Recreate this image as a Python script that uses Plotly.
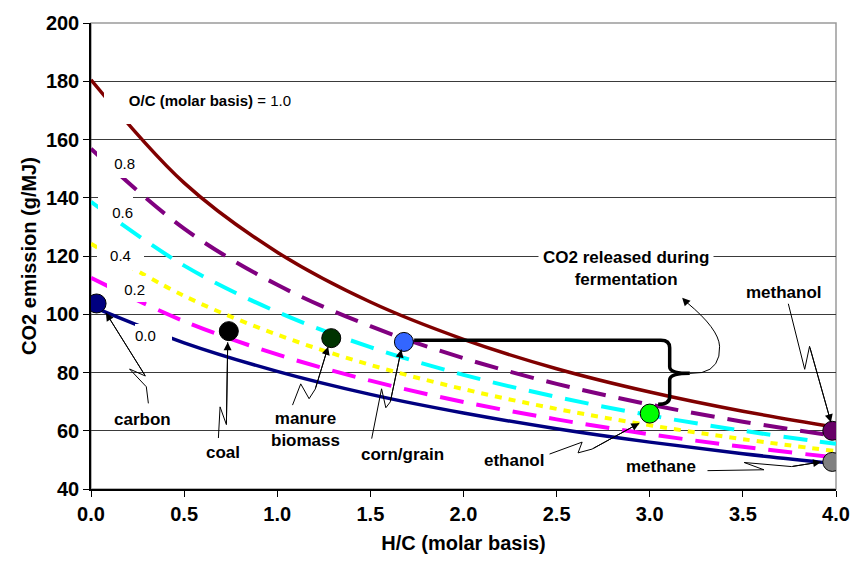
import plotly.graph_objects as go

# ---------------- data ----------------
hc = [0.0, 0.5, 1.0, 1.5, 2.0, 2.5, 3.0, 3.5, 4.0]

oc_10 = [180.5, 145.1, 121.3, 104.2, 91.4, 81.3, 73.3, 66.7, 61.2]
oc_08 = [156.8, 129.4, 110.1, 95.9, 84.9, 76.1, 69.0, 63.1, 58.2]
oc_06 = [138.6, 116.7, 100.8, 88.7, 79.2, 71.6, 65.3, 60.0, 55.5]
oc_04 = [124.2, 106.3, 93.0, 82.6, 74.3, 67.5, 61.9, 57.1, 53.0]
oc_02 = [112.5, 97.6, 86.2, 77.2, 69.9, 63.9, 58.8, 54.5, 50.8]
oc_00 = [102.8, 90.2, 80.4, 72.5, 66.1, 60.7, 56.1, 52.1, 48.7]

fuel_names = ["carbon", "coal", "manure biomass", "corn/grain", "ethanol", "methanol", "methane"]
fuel_hc = [0.03, 0.74, 1.29, 1.68, 3.00, 3.98, 3.98]
fuel_co2 = [103.7, 94.2, 91.8, 90.5, 65.9, 60.0, 49.3]
fuel_colors = ["#000080", "#000000", "#003300", "#3366FF", "#00FF00", "#660066", "#808080"]

x_ticks = [0.0, 0.5, 1.0, 1.5, 2.0, 2.5, 3.0, 3.5, 4.0]
y_ticks = [40, 60, 80, 100, 120, 140, 160, 180, 200]

FONT = "Arial, Liberation Sans, sans-serif"

fig = go.Figure()

curves = [
    (oc_00, "#000080", "solid", 3.5),
    (oc_02, "#FF00FF", "24px,13px", 4),
    (oc_04, "#FFFF00", "7px,7px", 4),
    (oc_06, "#00FFFF", "24px,13px", 4),
    (oc_08, "#800080", "24px,13px", 4),
    (oc_10, "#800000", "solid", 3.5),
]
for ys, col, dash, w in curves:
    fig.add_trace(go.Scatter(x=hc, y=ys, mode="lines",
                             line=dict(color=col, width=w, dash=dash, shape="spline", smoothing=1.0),
                             hoverinfo="skip", showlegend=False))

fig.add_trace(go.Scatter(x=fuel_hc, y=fuel_co2, mode="markers", text=fuel_names,
                         marker=dict(size=19, color=fuel_colors, line=dict(color="black", width=1)),
                         showlegend=False))

shapes = []
annotations = []

# plot-area border (gray top/right)
shapes.append(dict(type="rect", xref="paper", yref="paper", x0=0, x1=1, y0=0, y1=1,
                   line=dict(color="#9a9a9a", width=1.5), layer="between"))

# brace: corn/grain -> ethanol
brace = ("M 1.735,91.06 L 3.06,91.06 Q 3.107,91.06 3.107,88.5 L 3.107,82.0 "
         "Q 3.107,79.7 3.215,79.7 Q 3.107,79.7 3.107,77.4 L 3.107,71.6 "
         "Q 3.107,69.1 3.045,69.1")
shapes.append(dict(type="path", path=brace, line=dict(color="black", width=3.5), layer="above"))

# curved arrow from brace tip to the fermentation label
shapes.append(dict(type="path",
                   path="M 3.215,79.7 L 3.28,80.0 Q 3.38,81.5 3.375,89 Q 3.37,95 3.20,104.0",
                   line=dict(color="black", width=1), layer="above"))
annotations.append(dict(x=3.174, y=105.7, ax=3.205, ay=103.6, xref="x", yref="y",
                        axref="x", ayref="y", text="", showarrow=True, arrowhead=2,
                        arrowsize=1.6, arrowwidth=1, arrowcolor="black"))

# squiggly pointer arrows (tail ... head)
pointers = [
    [(0.308, 69.4), (0.297, 75.1), (0.207, 81.2), (0.292, 78.8), (0.080, 100.5)],   # carbon
    [(0.684, 57.5), (0.693, 68.2), (0.727, 62.1), (0.734, 90.4)],                   # coal
    [(1.082, 68.8), (1.126, 76.1), (1.171, 71.0), (1.204, 74.3), (1.273, 88.8)],    # manure
    [(1.507, 57.3), (1.560, 74.4), (1.583, 67.9), (1.607, 69.9), (1.666, 87.9)],    # corn
    [(2.462, 52.0), (2.637, 56.1), (2.615, 52.4), (2.690, 53.7), (2.944, 62.6)],    # ethanol
    [(3.744, 103.6), (3.832, 81.1), (3.858, 89.0), (3.973, 62.9)],                  # methanol
    [(3.310, 46.3), (3.613, 46.6), (3.507, 49.1), (3.761, 47.7), (3.920, 49.3)],    # methane
]
for pts in pointers:
    path = "M " + " L ".join(f"{px},{py}" for px, py in pts)
    shapes.append(dict(type="path", path=path, line=dict(color="black", width=1), layer="above"))
    (hx, hy), (tx, ty) = pts[-1], pts[-2]
    annotations.append(dict(x=hx, y=hy, ax=tx, ay=ty, xref="x", yref="y", axref="x", ayref="y",
                            text="", showarrow=True, arrowhead=2, arrowsize=1.6,
                            arrowwidth=1, arrowcolor="black"))

# fuel labels
lbl_font = dict(family=FONT, size=17, color="black")
labels = [
    ("<b>carbon</b>", 0.276, 63.8),
    ("<b>coal</b>", 0.711, 52.4),
    ("<b>manure<br>biomass</b>", 1.151, 60.5),
    ("<b>corn/grain</b>", 1.671, 52.0),
    ("<b>ethanol</b>", 2.271, 49.7),
    ("<b>methane</b>", 3.061, 47.7),
    ("<b>methanol</b>", 3.719, 107.4),
]
for t, lx, ly in labels:
    annotations.append(dict(x=lx, y=ly, text=t, showarrow=False, font=lbl_font,
                            xanchor="center", yanchor="middle"))

annotations.append(dict(x=2.870, y=115.8, text="<b>CO2 released during<br>fermentation</b>",
                        showarrow=False, font=lbl_font, bgcolor="white", borderpad=4,
                        xanchor="center", yanchor="middle"))

# O/C curve labels (white boxes break the lines)
cl_font = dict(family=FONT, size=15, color="black")
curve_labels = [
    ("<b>O/C (molar basis)</b> = 1.0", 0.570, 170.8, 187, 32, "right", "top"),
    ("0.8", 0.133, 151.7, 38, 29, "right", "middle"),
    ("0.6", 0.130, 136.4, 35, 26, "right", "bottom"),
    ("0.4", 0.156, 120.5, 47, 30, "center", "middle"),
    ("0.2", 0.186, 108.7, 38, 26, "right", "middle"),
    ("0.0", 0.337, 92.8, 37, 22, "left", "middle"),
]
for t, lx, ly, w, h, al, va in curve_labels:
    annotations.append(dict(x=lx, y=ly, text=t, showarrow=False, font=cl_font,
                            bgcolor="white", borderpad=0, borderwidth=0, width=w, height=h,
                            align=al, valign=va, xanchor="center", yanchor="middle"))

fig.update_layout(
    width=862, height=568,
    margin=dict(l=91, r=17, t=14, b=79),
    paper_bgcolor="white", plot_bgcolor="white",
    showlegend=False,
    font=dict(family=FONT, color="black"),
    shapes=shapes, annotations=annotations,
    xaxis=dict(range=[0, 4], tickvals=x_ticks, ticktext=[f"<b>{v:.1f}</b>" for v in x_ticks],
               showgrid=False, zeroline=False, showline=True, linecolor="black", linewidth=1.5,
               ticks="outside", ticklen=6, tickcolor="black",
               tickfont=dict(family=FONT, size=20, color="black"),
               title=dict(text="<b>H/C (molar basis)</b>", font=dict(family=FONT, size=20, color="black"),
                          standoff=12)),
    yaxis=dict(range=[40, 200], tickvals=y_ticks, ticktext=[f"<b>{v}</b>" for v in y_ticks],
               showgrid=True, gridcolor="#3a3a3a", gridwidth=1, zeroline=False,
               showline=True, linecolor="black", linewidth=1.5,
               ticks="outside", ticklen=6, tickcolor="black", ticklabelstandoff=0,
               tickfont=dict(family=FONT, size=20, color="black"),
               title=dict(text="<b>CO2 emission (g/MJ)</b>", font=dict(family=FONT, size=20, color="black"),
                          standoff=4)),
)

fig.write_html("out.html")
